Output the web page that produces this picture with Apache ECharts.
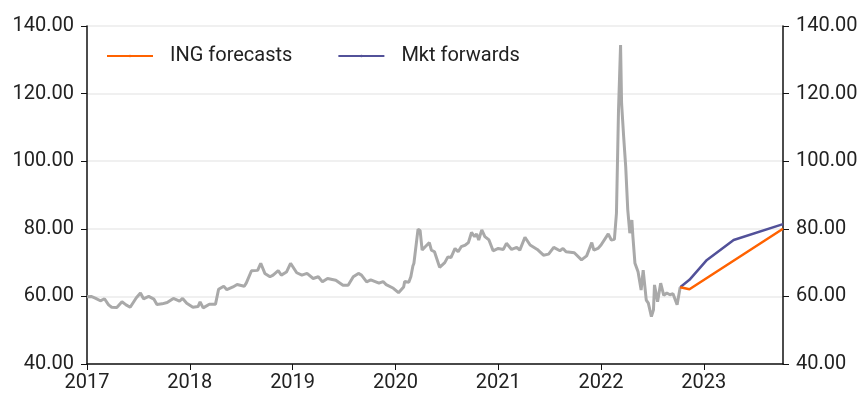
<!DOCTYPE html>
<html>
<head>
<meta charset="utf-8">
<script src="https://cdn.jsdelivr.net/npm/echarts@6/dist/echarts.min.js"></script>
<style>
  html, body { margin: 0; padding: 0; background: #fff; }
  #main { width: 864px; height: 394px; }
</style>
</head>
<body>
<div id="main"></div>
<script>
// decimal years on the x axis
var histYears = [
  2017.00, 2017.04, 2017.08, 2017.13, 2017.17, 2017.21, 2017.24, 2017.29, 2017.34, 2017.38,
  2017.42, 2017.48, 2017.52, 2017.55, 2017.60, 2017.65, 2017.68, 2017.73, 2017.78, 2017.84,
  2017.90, 2017.93, 2017.97, 2018.03, 2018.08, 2018.10, 2018.13, 2018.19, 2018.25, 2018.28,
  2018.33, 2018.36, 2018.42, 2018.46, 2018.53, 2018.55, 2018.60, 2018.66, 2018.69, 2018.73,
  2018.78, 2018.81, 2018.86, 2018.89, 2018.94, 2018.98, 2019.04, 2019.09, 2019.14, 2019.20,
  2019.25, 2019.29, 2019.34, 2019.42, 2019.49, 2019.54, 2019.59, 2019.64, 2019.67, 2019.72,
  2019.76, 2019.84, 2019.88, 2019.91, 2019.98, 2020.03, 2020.08, 2020.09, 2020.13, 2020.15,
  2020.17, 2020.18, 2020.22, 2020.24, 2020.26, 2020.29, 2020.33, 2020.35, 2020.38, 2020.43,
  2020.48, 2020.51, 2020.54, 2020.58, 2020.61, 2020.64, 2020.68, 2020.71, 2020.74, 2020.77,
  2020.79, 2020.81, 2020.84, 2020.87, 2020.91, 2020.95, 2021.00, 2021.05, 2021.08, 2021.13,
  2021.18, 2021.21, 2021.26, 2021.31, 2021.38, 2021.44, 2021.49, 2021.54, 2021.60, 2021.63,
  2021.66, 2021.74, 2021.81, 2021.86, 2021.91, 2021.93, 2021.97, 2022.00, 2022.07, 2022.10,
  2022.13, 2022.15, 2022.17, 2022.19, 2022.20, 2022.22, 2022.24, 2022.26, 2022.28, 2022.30,
  2022.31, 2022.33, 2022.36, 2022.39, 2022.41, 2022.44, 2022.46, 2022.49, 2022.51, 2022.52,
  2022.55, 2022.58, 2022.61, 2022.64, 2022.67, 2022.70, 2022.74, 2022.77
];
var histValues = [
  59.9, 60.0, 59.5, 58.7, 59.3, 57.5, 56.8, 56.7, 58.4, 57.5,
  56.8, 59.6, 61.0, 59.3, 60.0, 59.2, 57.6, 57.8, 58.2, 59.4,
  58.6, 59.4, 58.0, 56.8, 57.0, 58.4, 56.6, 57.7, 57.7, 62.1,
  63.0, 62.0, 62.8, 63.5, 63.0, 64.0, 67.6, 67.7, 69.8, 66.8,
  65.8, 66.3, 67.6, 66.3, 67.2, 69.8, 67.0, 66.3, 66.8, 65.3,
  65.8, 64.3, 65.3, 64.8, 63.3, 63.3, 65.8, 66.8, 66.3, 64.3,
  64.9, 63.9, 64.4, 63.5, 62.4, 61.1, 62.8, 64.4, 64.2, 65.8,
  69.0, 69.8, 79.9, 79.5, 73.7, 74.7, 75.9, 73.7, 73.2, 68.6,
  70.0, 71.7, 71.5, 74.2, 73.2, 74.7, 75.2, 75.9, 78.9, 77.7,
  78.5, 76.7, 79.7, 77.7, 76.7, 73.5, 74.2, 73.9, 75.7, 73.9,
  74.5, 73.7, 77.5, 75.2, 73.9, 72.2, 72.5, 74.5, 73.5, 74.2,
  73.2, 72.9, 70.8, 72.0, 75.9, 73.7, 74.2, 75.2, 78.5, 76.7,
  76.9, 84.6, 115.1, 134.4, 117.1, 107.3, 98.4, 85.6, 78.7, 82.6,
  77.7, 69.8, 67.3, 61.9, 67.8, 58.9, 58.0, 54.0, 56.0, 63.4,
  58.4, 63.9, 60.3, 61.0, 60.5, 60.8, 57.5, 62.7
];

var ingYears = [2022.77, 2022.86, 2023.77];
var ingValues = [62.7, 62.1, 80.0];

var fwdYears = [2022.77, 2022.86, 2023.03, 2023.29, 2023.77];
var fwdValues = [62.7, 64.9, 70.8, 76.7, 81.4];

var yTicks = [40, 60, 80, 100, 120, 140];

function pairs(xs, ys) {
  return xs.map(function (x, i) { return [x, ys[i]]; });
}

var chart = echarts.init(document.getElementById('main'));

var font = 'Roboto, "Noto Sans", sans-serif';
var yAxisBase = {
  type: 'value',
  min: yTicks[0],
  max: yTicks[yTicks.length - 1],
  interval: 20,
  axisLine: { show: true, lineStyle: { color: '#111', width: 1.5 } },
  axisTick: { show: true, length: 6, lineStyle: { color: '#111' } },
  axisLabel: {
    color: '#222', fontSize: 20, fontFamily: font, margin: 13,
    formatter: function (v) { return v.toFixed(2); }
  }
};

chart.setOption({
  animation: false,
  grid: { left: 87, right: 81, top: 26, bottom: 30 },
  legend: {
    data: ['ING forecasts', 'Mkt forwards'],
    left: 101, top: 41,
    itemWidth: 46, itemHeight: 3,
    itemGap: 45,
    textStyle: { color: '#222', fontSize: 20, fontFamily: font, padding: [0, 0, 0, 12] }
  },
  xAxis: {
    type: 'value',
    min: 2017,
    max: 2023.77,
    interval: 1,
    axisLine: { show: true, onZero: false, lineStyle: { color: '#111', width: 1.5 } },
    axisTick: { show: true, length: 6, lineStyle: { color: '#111' } },
    splitLine: { show: false },
    axisLabel: {
      color: '#222', fontSize: 20, fontFamily: font, margin: 9,
      showMaxLabel: false,
      formatter: function (v) { return String(Math.round(v)); }
    }
  },
  yAxis: [
    Object.assign({}, yAxisBase, {
      position: 'left',
      splitLine: { show: true, lineStyle: { color: '#ebebeb', width: 1.5 } }
    }),
    Object.assign({}, yAxisBase, {
      position: 'right',
      splitLine: { show: false }
    })
  ],
  series: [
    {
      name: 'History',
      type: 'line',
      data: pairs(histYears, histValues),
      symbol: 'none',
      lineStyle: { color: '#a9a9a9', width: 3 },
      itemStyle: { color: '#a9a9a9' },
      z: 1
    },
    {
      name: 'ING forecasts',
      type: 'line',
      data: pairs(ingYears, ingValues),
      symbol: 'none',
      lineStyle: { color: '#ff6200', width: 2.5 },
      itemStyle: { color: '#ff6200' },
      z: 3
    },
    {
      name: 'Mkt forwards',
      type: 'line',
      data: pairs(fwdYears, fwdValues),
      symbol: 'none',
      lineStyle: { color: '#525199', width: 2.5 },
      itemStyle: { color: '#525199' },
      z: 2
    }
  ]
});
</script>
</body>
</html>
